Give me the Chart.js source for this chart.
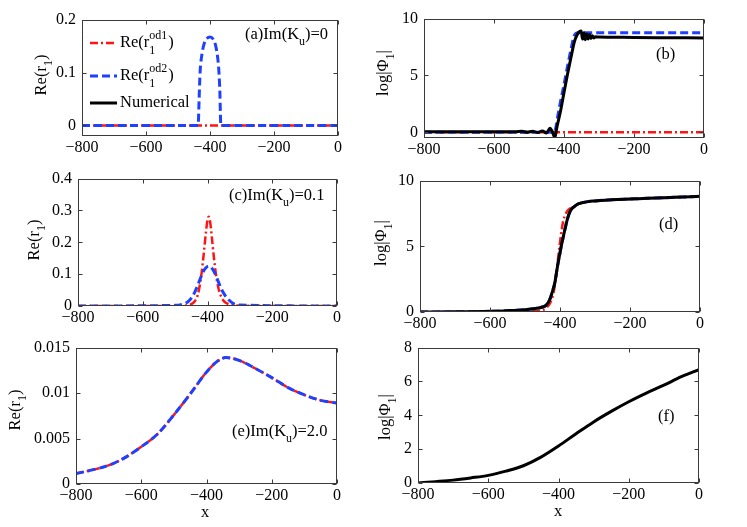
<!DOCTYPE html>
<html><head><meta charset="utf-8">
<script src="https://cdn.jsdelivr.net/npm/chart.js@4.4.1/dist/chart.umd.min.js"></script>
<style>
html,body{margin:0;padding:0;background:#fff;}
body{width:747px;height:527px;position:relative;overflow:hidden;}
canvas{position:absolute;}
</style></head>
<body>
<canvas id="pa"></canvas><canvas id="pb"></canvas><canvas id="pc"></canvas>
<canvas id="pd"></canvas><canvas id="pe"></canvas><canvas id="pf"></canvas>
<script>
// ---------- shared tick labels ----------
const xTicks = [-800, -600, -400, -200, 0];
const xTickLabels = ['\u2212800', '\u2212600', '\u2212400', '\u2212200', '0'];

// ---------- panel (a): Im(Ku)=0 ----------
const a_x_od1 = [-800, 0];
const a_od1 = [0, 0];
const a_x_od2 = [-800, -437, -436, -434, -431, -425, -418, -410, -400, -390, -382, -376, -372, -369, -367, -366, 0];
const a_od2 = [0, 0, 0.01, 0.05, 0.1, 0.135, 0.155, 0.164, 0.167, 0.163, 0.15, 0.128, 0.1, 0.06, 0.01, 0, 0];
const a_yTicks = [0, 0.1, 0.2];
const a_yLabels = ['0', '0.1', '0.2'];

// ---------- panel (b) ----------
const b_x_od1 = [-800, 0];
const b_od1 = [0, 0];
const b_x_od2 = [-800, -432, -426, -418, -410, -400, -390, -380, -372, -366, -360, -350, 0];
const b_od2 = [0, 0, 0.1, 1.4, 2.7, 4.2, 5.8, 7.3, 8.4, 8.7, 8.75, 8.75, 8.75];
const b_x_num = [-800, -700, -600, -540, -520, -505, -490, -475, -462, -450, -440, -434, -426, -420, -410, -400, -390, -380, -370, -362, -356, -351, -347, -343, -339, -335, -331, -327, -323, -319, -315, -310, -300, -250, -200, -100, 0];
const b_num = [0.06, 0.06, 0.05, 0.05, 0.1, 0.0, 0.1, -0.02, 0.12, -0.05, 0.35, 0.1, -0.45, 0.5, 1.85, 3.5, 5.1, 6.6, 8.0, 8.6, 8.85, 8.9, 8.2, 8.75, 8.15, 8.65, 8.2, 8.6, 8.25, 8.5, 8.3, 8.4, 8.38, 8.36, 8.34, 8.32, 8.3];
const b_yTicks = [0, 5, 10];
const b_yLabels = ['0', '5', '10'];

// ---------- panel (c): Im(Ku)=0.1 ----------
const c_x = [-800, -500, -470, -460, -450, -440, -430, -420, -412, -405, -400, -396, -392, -386, -380, -374, -366, -358, -350, -340, -320, -300, 0];
const c_od1 = [0, 0, 0.001, 0.003, 0.006, 0.014, 0.035, 0.09, 0.16, 0.23, 0.27, 0.28, 0.265, 0.21, 0.15, 0.1, 0.055, 0.03, 0.016, 0.008, 0.002, 0.001, 0];
const c_od2 = [0, 0.002, 0.008, 0.014, 0.025, 0.042, 0.065, 0.092, 0.11, 0.12, 0.124, 0.125, 0.124, 0.118, 0.108, 0.095, 0.075, 0.055, 0.04, 0.025, 0.008, 0.003, 0];
const c_yTicks = [0, 0.1, 0.2, 0.3, 0.4];
const c_yLabels = ['0', '0.1', '0.2', '0.3', '0.4'];

// ---------- panel (d) ----------
const d_x = [-800, -700, -600, -550, -500, -470, -450, -440, -430, -420, -415, -410, -405, -400, -395, -390, -385, -380, -375, -370, -365, -360, -350, -340, -320, -300, -250, -200, -150, -100, -50, 0];
const d_num = [0, 0.01, 0.05, 0.1, 0.18, 0.27, 0.38, 0.5, 0.9, 1.7, 2.2, 3.0, 3.8, 4.5, 5.2, 5.8, 6.4, 6.95, 7.4, 7.7, 7.9, 8.0, 8.2, 8.3, 8.4, 8.45, 8.55, 8.6, 8.65, 8.7, 8.75, 8.8];
const d_od2 = [0, 0.01, 0.05, 0.1, 0.18, 0.27, 0.38, 0.5, 0.9, 1.7, 2.2, 3.0, 3.8, 4.5, 5.2, 5.8, 6.4, 6.95, 7.4, 7.7, 7.9, 8.0, 8.2, 8.3, 8.4, 8.45, 8.55, 8.6, 8.65, 8.7, 8.75, 8.8];
const d_od1 = [0, 0.0, 0.01, 0.02, 0.05, 0.09, 0.15, 0.3, 0.6, 1.3, 2.0, 3.0, 4.2, 5.3, 6.3, 7.0, 7.4, 7.65, 7.8, 7.9, 7.95, 8.0, 8.2, 8.3, 8.4, 8.45, 8.55, 8.6, 8.65, 8.7, 8.75, 8.8];
const d_yTicks = [0, 5, 10];
const d_yLabels = ['0', '5', '10'];

// ---------- panel (e): Im(Ku)=2.0 ----------
const e_x = [-800, -750, -700, -650, -600, -550, -500, -450, -400, -370, -340, -300, -250, -200, -150, -100, -50, 0];
const e_od1 = [0.00115, 0.00155, 0.00205, 0.0029, 0.0041, 0.0055, 0.0076, 0.0099, 0.0123, 0.0134, 0.0139, 0.0136, 0.0127, 0.0117, 0.0106, 0.0098, 0.0092, 0.0089];
const e_od2 = [0.00115, 0.00155, 0.00205, 0.0029, 0.0041, 0.0055, 0.0076, 0.0099, 0.0123, 0.0134, 0.0139, 0.0136, 0.0127, 0.0117, 0.0106, 0.0098, 0.0092, 0.0089];
const e_yTicks = [0, 0.005, 0.01, 0.015];
const e_yLabels = ['0', '0.005', '0.01', '0.015'];

// ---------- panel (f) ----------
const f_x = [-800, -750, -700, -650, -600, -550, -500, -450, -400, -350, -300, -250, -200, -150, -100, -50, 0];
const f_num = [0, 0.08, 0.17, 0.3, 0.45, 0.7, 1.02, 1.53, 2.19, 2.91, 3.61, 4.23, 4.8, 5.31, 5.78, 6.28, 6.7];
const f_yTicks = [0, 2, 4, 6, 8];
const f_yLabels = ['0', '2', '4', '6', '8'];

// ---------- styling helpers ----------
const FONT = "'Liberation Serif','Times New Roman',serif";
const TICK_SIZE = 16, TEXT_SIZE = 16.5;
const RED = '#ff1414', BLUE = '#2040ff', BLACK = '#000000';
const STY = {
  od1: {borderColor: RED, borderWidth: 2.5, borderDash: [8, 3, 2, 3], order: 2},
  od2: {borderColor: BLUE, borderWidth: 3, borderDash: [8, 4], order: 1},
  num: {borderColor: BLACK, borderWidth: 3, borderDash: [], order: 0}
};
function pts(xs, ys) { return xs.map((x, i) => ({x: x, y: ys[i]})); }
function ds(kind, xs, ys) {
  return Object.assign({label: kind, data: pts(xs, ys), pointRadius: 0, fill: false,
    cubicInterpolationMode: 'monotone', borderCapStyle: 'butt', borderJoinStyle: 'round'}, STY[kind]);
}

function drawRich(ctx, x, y, segs, size, align) {
  const small = Math.round(size * 0.7);
  const parts = []; let w = 0;
  for (const s of segs) {
    if (typeof s === 'string') {
      ctx.font = size + 'px ' + FONT;
      const m = ctx.measureText(s).width; parts.push({t: s, f: size, dy: 0, w: m}); w += m;
    } else if (s.sup !== undefined && s.sub !== undefined) {
      ctx.font = small + 'px ' + FONT;
      const m = Math.max(ctx.measureText(s.sup).width, ctx.measureText(s.sub).width);
      parts.push({stack: true, sup: s.sup, sub: s.sub, f: small, w: m}); w += m + 1;
    } else if (s.sub !== undefined) {
      ctx.font = small + 'px ' + FONT;
      const m = ctx.measureText(s.sub).width; parts.push({t: s.sub, f: small, dy: size * 0.42, w: m}); w += m;
    } else if (s.sup !== undefined) {
      ctx.font = small + 'px ' + FONT;
      const m = ctx.measureText(s.sup).width; parts.push({t: s.sup, f: small, dy: -size * 0.42, w: m}); w += m;
    }
  }
  let cx = align === 'center' ? x - w / 2 : (align === 'right' ? x - w : x);
  ctx.textBaseline = 'middle'; ctx.textAlign = 'left'; ctx.fillStyle = '#000';
  for (const p of parts) {
    ctx.font = p.f + 'px ' + FONT;
    if (p.stack) {
      ctx.fillText(p.sup, cx, y - size * 0.45);
      ctx.fillText(p.sub, cx, y + size * 0.45);
      cx += p.w + 1;
    } else {
      ctx.fillText(p.t, cx, y + p.dy); cx += p.w;
    }
  }
}

const framePlugin = {
  id: 'frame',
  afterDatasetsDraw(chart, args, o) {
    const ctx = chart.ctx, a = chart.chartArea;
    const xs = chart.scales.x, ys = chart.scales.y;
    ctx.save();
    ctx.strokeStyle = '#3a3a3a'; ctx.lineWidth = 1; ctx.setLineDash([]);
    const L = Math.round(a.left) + 0.5, R = Math.round(a.right) - 0.5, T = Math.round(a.top) + 0.5, B = Math.round(a.bottom) - 0.5;
    ctx.strokeRect(L, T, R - L, B - T);
    const tl = 4;
    ctx.beginPath();
    xs.ticks.forEach(t => {
      const px = Math.round(xs.getPixelForValue(t.value)) + 0.5;
      ctx.moveTo(px, B); ctx.lineTo(px, B - tl);
      ctx.moveTo(px, T); ctx.lineTo(px, T + tl);
    });
    ys.ticks.forEach(t => {
      const py = Math.round(ys.getPixelForValue(t.value)) + 0.5;
      ctx.moveTo(L, py); ctx.lineTo(L + tl, py);
      ctx.moveTo(R, py); ctx.lineTo(R - tl, py);
    });
    ctx.stroke();
    ctx.restore();
  },
  afterDraw(chart, args, o) {
    const ctx = chart.ctx;
    ctx.save();
    (o.texts || []).forEach(t => {
      const x = t.x - o.ox, y = t.y - o.oy;
      if (t.rot) {
        ctx.save(); ctx.translate(x, y); ctx.rotate(-Math.PI / 2);
        drawRich(ctx, 0, 0, t.segs, TEXT_SIZE, 'center'); ctx.restore();
      } else {
        drawRich(ctx, x, y, t.segs, TEXT_SIZE, t.align || 'left');
      }
    });
    (o.legend || []).forEach(l => {
      const st = STY[l.kind];
      ctx.save();
      ctx.strokeStyle = st.borderColor; ctx.lineWidth = st.borderWidth; ctx.setLineDash(st.borderDash);
      ctx.beginPath(); ctx.moveTo(l.x1 - o.ox, l.y - o.oy); ctx.lineTo(l.x2 - o.ox, l.y - o.oy); ctx.stroke();
      ctx.restore();
      drawRich(ctx, l.tx - o.ox, l.y - o.oy, l.segs, TEXT_SIZE, 'left');
    });
    ctx.restore();
  }
};

function makePanel(id, box, datasets, yMin, yMax, yTicks, yLabels, texts, legend) {
  const PADL = 75, PADT = 10, PADR = 14, PADB = 42;
  const cv = document.getElementById(id);
  const ox = box.L - PADL, oy = box.T - PADT;
  const W = box.R - box.L + PADL + PADR, H = box.B - box.T + PADT + PADB;
  cv.style.left = ox + 'px'; cv.style.top = oy + 'px';
  cv.width = W; cv.height = H; cv.style.width = W + 'px'; cv.style.height = H + 'px';
  new Chart(cv, {
    type: 'line',
    data: {datasets: datasets},
    plugins: [framePlugin],
    options: {
      responsive: false, animation: false, events: [],
      layout: {padding: {left: 0, top: PADT, right: PADR, bottom: 0}},
      plugins: {legend: {display: false}, tooltip: {enabled: false},
        frame: {ox: ox, oy: oy, texts: texts, legend: legend || []}},
      scales: {
        x: {type: 'linear', min: -800, max: 0,
          afterBuildTicks: s => { s.ticks = xTicks.map(v => ({value: v})); },
          afterFit: s => { s.height = PADB; },
          grid: {display: false, drawTicks: false}, border: {display: false},
          ticks: {autoSkip: false, maxRotation: 0, padding: 2, color: '#000',
            font: {family: FONT, size: TICK_SIZE}, callback: (v, i) => xTickLabels[i]}},
        y: {type: 'linear', min: yMin, max: yMax,
          afterBuildTicks: s => { s.ticks = yTicks.map(v => ({value: v})); },
          afterFit: s => { s.width = PADL; },
          grid: {display: false, drawTicks: false}, border: {display: false},
          ticks: {autoSkip: false, padding: 6, color: '#000',
            font: {family: FONT, size: TICK_SIZE}, callback: (v, i) => yLabels[i]}}
      }
    }
  });
}

const reT = [ 'Re(r', {sub: '1'}, ')' ];
const logT = [ 'log|\u03A6', {sub: '1'}, '|' ];

makePanel('pa', {L: 82, R: 338, T: 14, B: 136},
  [ds('od2', a_x_od2, a_od2), ds('od1', a_x_od1, a_od1)],
  -0.02, 0.2, a_yTicks, a_yLabels,
  [ {x: 42, y: 75, rot: true, segs: reT},
    {x: 245, y: 35, segs: ['(a)Im(K', {sub: 'u'}, ')=0']} ],
  [ {kind: 'od1', x1: 90, x2: 117, y: 43, tx: 120, segs: ['Re(r', {sup: 'od1', sub: '1'}, ')']},
    {kind: 'od2', x1: 90, x2: 117, y: 76, tx: 120, segs: ['Re(r', {sup: 'od2', sub: '1'}, ')']},
    {kind: 'num', x1: 90, x2: 117, y: 103, tx: 120, segs: ['Numerical']} ]);

makePanel('pb', {L: 424, R: 704, T: 13, B: 138},
  [ds('num', b_x_num, b_num), ds('od2', b_x_od2, b_od2), ds('od1', b_x_od1, b_od1)],
  -0.5, 10, b_yTicks, b_yLabels,
  [ {x: 384, y: 73, rot: true, segs: logT},
    {x: 656, y: 55, segs: ['(b)']} ]);

makePanel('pc', {L: 78, R: 337, T: 173, B: 306},
  [ds('od2', c_x, c_od2), ds('od1', c_x, c_od1)],
  0, 0.4, c_yTicks, c_yLabels,
  [ {x: 35, y: 240, rot: true, segs: reT},
    {x: 229, y: 196, segs: ['(c)Im(K', {sub: 'u'}, ')=0.1']} ]);

makePanel('pd', {L: 420, R: 700, T: 175, B: 312},
  [ds('num', d_x, d_num), ds('od2', d_x, d_od2), ds('od1', d_x, d_od1)],
  0, 10, d_yTicks, d_yLabels,
  [ {x: 382, y: 243, rot: true, segs: logT},
    {x: 659, y: 225, segs: ['(d)']} ]);

makePanel('pe', {L: 76, R: 337, T: 342, B: 484},
  [ds('od2', e_x, e_od2), ds('od1', e_x, e_od1)],
  0, 0.015, e_yTicks, e_yLabels,
  [ {x: 16, y: 410, rot: true, segs: reT},
    {x: 232, y: 432, segs: ['(e)Im(K', {sub: 'u'}, ')=2.0']},
    {x: 205, y: 513, align: 'center', segs: ['x']} ]);

makePanel('pf', {L: 418, R: 699, T: 342, B: 483},
  [ds('num', f_x, f_num)],
  0, 8, f_yTicks, f_yLabels,
  [ {x: 386, y: 417, rot: true, segs: logT},
    {x: 658, y: 417, segs: ['(f)']},
    {x: 558, y: 512, align: 'center', segs: ['x']} ]);
</script>
</body></html>
